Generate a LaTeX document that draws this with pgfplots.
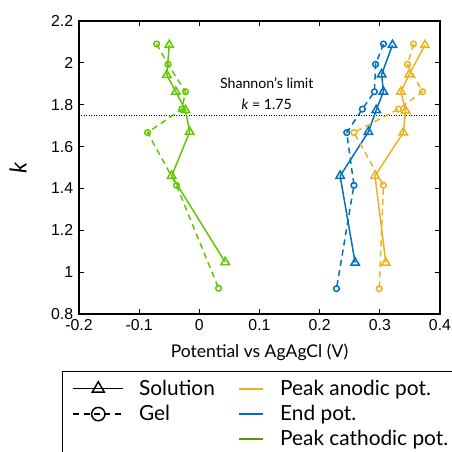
\documentclass[border=0pt]{standalone}
\usepackage{pgfplots}
\pgfplotsset{compat=1.18}
\usepackage{fontspec}
\setmainfont{Lato}
\newfontfamily\ticksf{Liberation Sans}

\definecolor{cyel}{RGB}{237,177,32}
\definecolor{cblu}{RGB}{0,114,189}
\definecolor{cgrn}{RGB}{99,199,0}

% legend images (with a bit of trailing room before the text)
\pgfplotsset{
  sollegend/.style={legend image code/.code={
      \draw[mark repeat=2,mark phase=2,##1] plot coordinates {(0pt,0pt) (15pt,0pt) (30pt,0pt)};
      \path (37pt,0pt);}},
  collegend/.style={legend image code/.code={
      \draw[##1] (0pt,0pt) -- (14pt,0pt);
      \path (22pt,0pt);}},
}

\begin{document}
\begin{tikzpicture}
  % picture frame (1 px = 0.6pt), axis lower left at origin
  \path[use as bounding box] (-47.4pt,-82.8pt) rectangle (223.8pt,188.4pt);
  \clip (-47.4pt,-82.8pt) rectangle (223.8pt,188.4pt);
  \begin{axis}[
      scale only axis,
      width=216.6pt, height=175.8pt,
      xmin=-0.2, xmax=0.4,
      ymin=0.8, ymax=2.2,
      xtick={-0.2,-0.1,0,0.1,0.2,0.3,0.4},
      ytick={0.8,1,1.2,1.4,1.6,1.8,2,2.2},
      tick align=inside,
      major tick length=3pt,
      axis line style={line width=0.8pt},
      tick style={line width=0.6pt, black},
      /pgf/number format/assume math mode=true,
      tick label style={font=\ticksf\fontsize{9.5}{10}\selectfont},
      xlabel={Potential vs AgAgCl (V)},
      xlabel style={font=\fontsize{10.5}{12}\selectfont, at={(axis description cs:0.5,0)}, anchor=center, yshift=-23pt},
      ylabel={\textit{k}},
      ylabel style={font=\fontsize{14}{15}\selectfont, at={(axis description cs:-0.169,0.5)}, anchor=center},
      legend columns=2,
      legend cell align=left,
      legend style={
        at={(axis description cs:-0.047,-0.1945)}, anchor=north west,
        draw=black, line width=0.6pt,
        font=\fontsize{12.5}{14}\selectfont,
        row sep=0.5pt,
        inner xsep=6pt, inner ysep=3pt,
        /tikz/every even column/.append style={column sep=12pt},
      },
    ]

    % Shannon's limit
    \draw[black, densely dotted, line width=0.5pt] (axis cs:-0.2,1.75) -- (axis cs:0.4,1.75);
    \node[font=\fontsize{8.5}{10}\selectfont] at (axis cs:0.112,1.905) {Shannon's limit};
    \node[font=\fontsize{8.5}{10}\selectfont] at (axis cs:0.112,1.80) {\textit{k} = 1.75};

    % Peak cathodic pot. (green)
    \addplot[forget plot, cgrn, line width=0.9pt, mark=triangle, mark size=2.9pt, mark options={solid}] coordinates {
      (-0.050,2.085) (-0.054,1.942) (-0.039,1.862) (-0.023,1.774) (-0.016,1.670) (-0.046,1.460) (0.043,1.048)
    };
    \addplot[forget plot, cgrn, line width=0.9pt, dash pattern=on 3.6pt off 2.6pt, mark=o, mark size=1.7pt, mark options={solid}] coordinates {
      (-0.071,2.090) (-0.052,1.993) (-0.023,1.862) (-0.029,1.779) (-0.086,1.667) (-0.038,1.415) (0.032,0.923)
    };

    % End pot. (blue)
    \addplot[forget plot, cblu, line width=0.9pt, mark=triangle, mark size=2.9pt, mark options={solid}] coordinates {
      (0.321,2.085) (0.303,1.945) (0.306,1.862) (0.294,1.774) (0.281,1.670) (0.234,1.460) (0.259,1.045)
    };
    \addplot[forget plot, cblu, line width=0.9pt, dash pattern=on 3.6pt off 2.6pt, mark=o, mark size=1.7pt, mark options={solid}] coordinates {
      (0.306,2.090) (0.293,1.993) (0.291,1.862) (0.271,1.779) (0.245,1.667) (0.257,1.415) (0.228,0.921)
    };

    % Peak anodic pot. (yellow)
    \addplot[forget plot, cyel, line width=0.9pt, mark=triangle, mark size=2.9pt, mark options={solid}] coordinates {
      (0.375,2.085) (0.349,1.945) (0.335,1.862) (0.343,1.771) (0.339,1.667) (0.292,1.460) (0.310,1.045)
    };
    \addplot[forget plot, cyel, line width=0.9pt, dash pattern=on 3.6pt off 2.6pt, mark=o, mark size=1.7pt, mark options={solid}] coordinates {
      (0.356,2.090) (0.346,1.993) (0.371,1.862) (0.331,1.779) (0.257,1.667) (0.306,1.415) (0.299,0.921)
    };

    % legend
    \addlegendimage{sollegend, black, line width=0.9pt, mark=triangle, mark size=4.2pt, mark options={solid, fill=white}}
    \addlegendentry{Solution}
    \addlegendimage{collegend, cyel, line width=1.2pt}
    \addlegendentry{Peak anodic pot.}
    \addlegendimage{sollegend, black, line width=0.9pt, dash pattern=on 3.6pt off 2.6pt, mark=o, mark size=4pt, mark options={solid, fill=white}}
    \addlegendentry{Gel}
    \addlegendimage{collegend, cblu, line width=1.2pt}
    \addlegendentry{End pot.}
    \addlegendimage{empty legend}
    \addlegendentry{}
    \addlegendimage{collegend, cgrn!80!black, line width=1.2pt}
    \addlegendentry{Peak cathodic pot.}
  \end{axis}
\end{tikzpicture}
\end{document}
